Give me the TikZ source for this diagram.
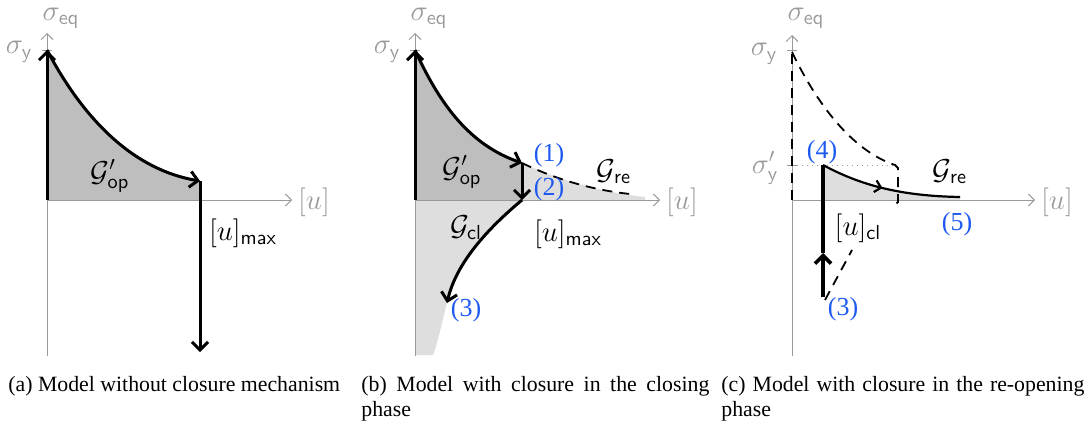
\documentclass[tikz,border=0pt]{standalone}
\usepackage{amsmath}
\usepackage[no-math]{fontspec}
\setmainfont{Liberation Serif}
\usetikzlibrary{arrows.meta,decorations.markings}
\definecolor{czmGray}{HTML}{9A9A9A}
\definecolor{czmDark}{HTML}{BEBEBE}
\definecolor{czmLight}{HTML}{DEDEDE}
\definecolor{czmBlue}{HTML}{1E5AF0}
\tikzset{
  czm axis/.style={draw=czmGray, line width=0.5pt, -{Straight Barb[length=3pt,width=6pt]}},
  czm tick/.style={draw=czmGray, line width=0.5pt},
  czm path/.style={draw=black, line width=1.5pt},
  czm head/.style={-{Straight Barb[length=4pt,width=8pt]}},
  czm dash/.style={draw=black, line width=0.9pt, dash pattern=on 5pt off 3.5pt},
  czm mid/.style={postaction={decorate}, decoration={markings, mark=at position 0.45 with {\arrow{Straight Barb[length=3pt,width=6pt]}}}},
  czm label/.style={font=\fontsize{14.5}{17}\selectfont, text=black, inner sep=0pt},
  czm axis label/.style={font=\fontsize{14.5}{17}\selectfont, text=czmGray, inner sep=0pt},
  czm step label/.style={font=\fontsize{13}{15}\selectfont, text=czmBlue, inner sep=0pt},
  czm caption/.style={font=\fontsize{10.9}{12.5}\selectfont, inner sep=0pt, anchor=north west},
}

\begin{document}
\hyphenpenalty=10000
\begin{tikzpicture}[x=0.5pt,y=-0.5pt]
  \useasboundingbox (0,0) rectangle (1090,428);

  % (a)
  \coordinate (oA) at (47,200);
  \coordinate (yA) at (47,50);
  \coordinate (mA) at (200,181);
  \coordinate (eA) at (200,352);
  \fill[czmDark] (oA) -- (yA) .. controls (85,122) and (135,170) .. (mA) -- (200,200) -- cycle;
  \draw[czm axis] (47,356) -- (47,33);
  \draw[czm axis] (oA) -- (292,200);
  \draw[czm tick] (42,50) -- (52,50);
  \draw[czm path, czm head] (oA) -- (yA);
  \draw[czm path, czm head] (yA) .. controls (85,122) and (135,170) .. (mA);
  \draw[czm path, czm head] (mA) -- (eA);
  \node[czm axis label] (seqA) at (61,18) {$\sigma_{\textsf{eq}}$};
  \node[czm axis label] (syA) at (19,52) {$\sigma_{\textsf{y}}$};
  \node[czm axis label] (uA) at (314,202) {$[u]$};
  \node[czm label] (gopA) at (110,176) {$\mathcal{G}'_{\textsf{op}}$};
  \node[czm label] (umaxA) at (243,233) {$[u]_{\textsf{max}}$};

  % (b)
  \coordinate (oB) at (415,200);
  \coordinate (yB) at (415,50);
  \coordinate (mB) at (522,163);
  \coordinate (aB) at (522,200);
  \coordinate (cB) at (447,303);
  \fill[czmLight] (mB) .. controls (560,180) and (600,192) .. (645,197) -- (645,200) -- (aB) -- cycle;
  \fill[czmLight] (oB) -- (aB) .. controls (480,235) and (455,268) .. (cB) .. controls (442,322) and (438,342) .. (433,355) -- (415,355) -- cycle;
  \fill[czmDark] (oB) -- (yB) .. controls (440,105) and (470,145) .. (mB) -- (aB) -- cycle;
  \draw[czm axis] (415,356) -- (415,33);
  \draw[czm axis] (oB) -- (660,200);
  \draw[czm tick] (410,50) -- (420,50);
  \draw[czm path, czm head] (oB) -- (yB);
  \draw[czm path, czm head] (yB) .. controls (440,105) and (470,145) .. (mB);
  \draw[czm path, czm head] (mB) -- (aB);
  \draw[czm dash] (mB) .. controls (555,179) and (592,190) .. (630,194);
  \draw[czm path, czm head] (aB) .. controls (480,235) and (455,268) .. (cB);
  \node[czm axis label] (seqB) at (429,18) {$\sigma_{\textsf{eq}}$};
  \node[czm axis label] (syB) at (387,52) {$\sigma_{\textsf{y}}$};
  \node[czm axis label] (uB) at (682,202) {$[u]$};
  \node[czm label] (gopB) at (462,172) {$\mathcal{G}'_{\textsf{op}}$};
  \node[czm label] (greB) at (614,172) {$\mathcal{G}_{\textsf{re}}$};
  \node[czm label] (gclB) at (466,228) {$\mathcal{G}_{\textsf{cl}}$};
  \node[czm label] (umaxB) at (568,234) {$[u]_{\textsf{max}}$};
  \node[czm step label] (s1B) at (549,155) {(1)};
  \node[czm step label] (s2B) at (549,189) {(2)};
  \node[czm step label] (s3B) at (466,310) {(3)};

  % (c)
  \coordinate (oC) at (792,200);
  \coordinate (yC) at (792,52);
  \coordinate (pC) at (792,165);
  \coordinate (qC) at (895,165);
  \coordinate (cC) at (823,297);
  \coordinate (hC) at (823,253);
  \coordinate (rC) at (823,165);
  \coordinate (fC) at (960,197);
  \fill[czmLight] (rC) .. controls (860,185) and (900,196) .. (fC) -- (960,200) -- (823,200) -- cycle;
  \draw[czm axis] (792,356) -- (792,35);
  \draw[czm axis] (oC) -- (1035,200);
  \draw[czm tick] (787,50) -- (797,50);
  \draw[czm tick] (787,165) -- (797,165);
  \draw[czmGray, line width=0.5pt, dotted] (pC) -- (qC);
  \draw[czm dash] (oC) -- (yC);
  \draw[czm dash] (yC) .. controls (815,100) and (850,150) .. (qC) -- (898,168) -- (898,202) -- (892,208);
  \draw[czm dash] (825,300) -- (852,250);
  \draw[czm path, line width=1.8pt, czm head] (cC) -- (hC);
  \draw[czm path, line width=1.8pt] (hC) -- (rC);
  \draw[czm path, line width=1.1pt, czm mid] (rC) .. controls (860,185) and (900,196) .. (fC);
  \node[czm axis label] (seqC) at (806,18) {$\sigma_{\textsf{eq}}$};
  \node[czm axis label] (syC) at (764,54) {$\sigma_{\textsf{y}}$};
  \node[czm axis label] (sypC) at (765,168) {$\sigma'_{\textsf{y}}$};
  \node[czm axis label] (uC) at (1057,202) {$[u]$};
  \node[czm label] (greC) at (950,172) {$\mathcal{G}_{\textsf{re}}$};
  \node[czm label] (uclC) at (858,228) {$[u]_{\textsf{cl}}$};
  \node[czm step label] (s4C) at (822,152) {(4)};
  \node[czm step label] (s5C) at (957,224) {(5)};
  \node[czm step label] (s3C) at (843,309) {(3)};

  % captions
  \node[czm caption] (capA) at (8,376) {(a) Model without closure mechanism};
  \node[czm caption, text width=174pt, align=justify] (capB) at (361,376) {(b) Model with closure in the closing phase};
  \node[czm caption, text width=181.5pt, align=justify] (capC) at (721,376) {(c) Model with closure in the re-opening phase};
\end{tikzpicture}
\end{document}
